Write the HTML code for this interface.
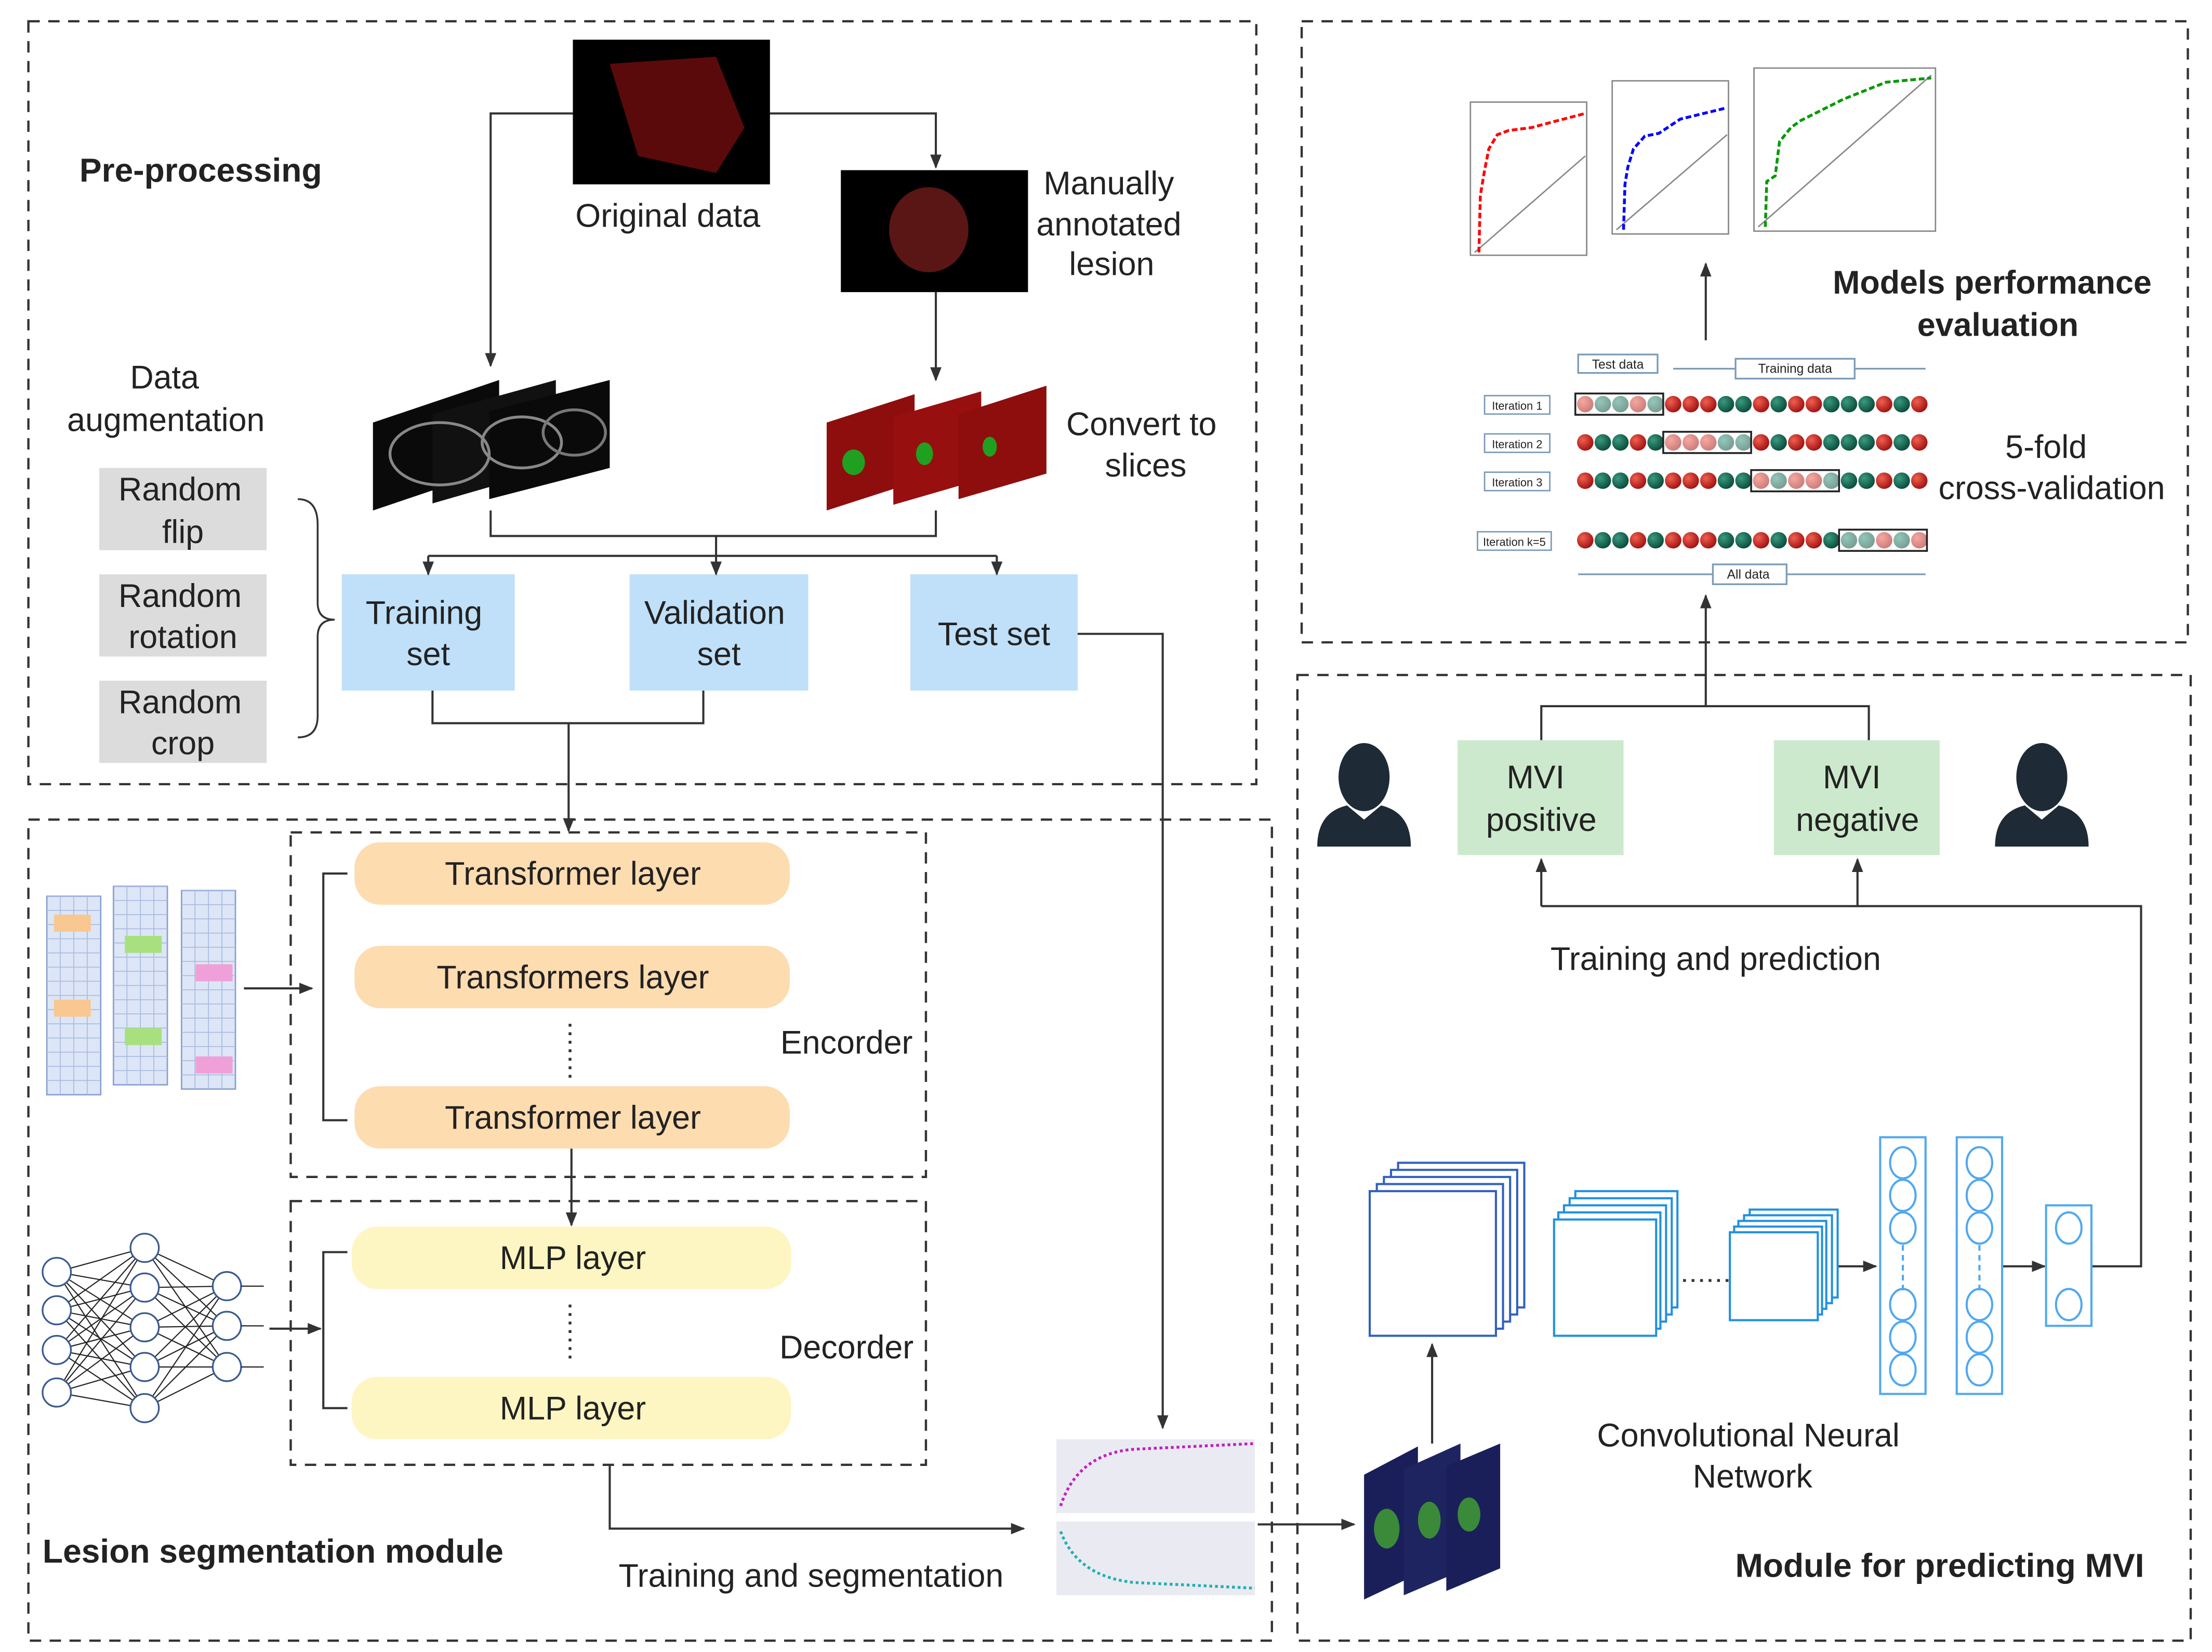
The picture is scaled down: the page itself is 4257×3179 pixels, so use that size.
<!DOCTYPE html>
<html><head><meta charset="utf-8"><style>
html,body{margin:0;padding:0;background:#fff}
svg{display:block}
text{font-family:"Liberation Sans",sans-serif;fill:#222}
</style></head><body>
<svg id="s" width="4257" height="3179" viewBox="0 0 1560 1165" xmlns="http://www.w3.org/2000/svg">
<defs>
<marker id="a" markerWidth="10" markerHeight="10" refX="9" refY="5" orient="auto" markerUnits="userSpaceOnUse"><path d="M0,1 L10,5 L0,9 z" fill="#333"/></marker>
<radialGradient id="rb" cx="0.35" cy="0.35" r="0.7"><stop offset="0" stop-color="#f06050"/><stop offset="1" stop-color="#a01010"/></radialGradient>
<radialGradient id="gb" cx="0.35" cy="0.35" r="0.7"><stop offset="0" stop-color="#3a9a80"/><stop offset="1" stop-color="#0a4a3a"/></radialGradient>
</defs>
<g fill="none" stroke="#333" stroke-width="1.6" stroke-dasharray="8,6">
<rect x="20" y="15" width="866" height="538"/>
<rect x="918" y="15" width="625" height="438"/>
<rect x="20" y="578" width="877" height="579"/>
<rect x="915" y="476" width="630" height="681"/>
<rect x="205" y="587" width="448" height="243"/>
<rect x="205" y="847" width="448" height="186"/>
</g>
<text x="56" y="128" font-size="23.5" font-weight="bold">Pre-processing</text>
<rect x="404" y="28" width="139" height="102" fill="#000"/>
<path d="M430,45 L505,40 L525,90 L505,122 L450,110 Z" fill="#5a0a0a"/>
<rect x="593" y="120" width="132" height="86" fill="#000"/>
<ellipse cx="655" cy="162" rx="28" ry="30" fill="#5a1515"/>
<g font-size="23" text-anchor="middle">
<text x="471" y="160">Original data</text>
<text x="782" y="137">Manually</text><text x="782" y="166">annotated</text><text x="784" y="194">lesion</text>
<text x="116" y="274">Data</text><text x="117" y="304">augmentation</text>
<text x="805" y="307">Convert to</text><text x="808" y="336">slices</text></g>
<path d="M263,298 L352,268 L352,330 L263,360 Z" fill="#0a0a0a"/>
<path d="M305,292 L392,268 L392,330 L305,355 Z" fill="#111"/>
<path d="M345,290 L430,268 L430,330 L345,352 Z" fill="#0a0a0a"/>
<ellipse cx="310" cy="320" rx="35" ry="22" fill="none" stroke="#888" stroke-width="2"/>
<ellipse cx="368" cy="312" rx="28" ry="18" fill="none" stroke="#888" stroke-width="2"/>
<ellipse cx="405" cy="305" rx="22" ry="16" fill="none" stroke="#777" stroke-width="2"/>
<path d="M583,298 L645,278 L645,340 L583,360 Z" fill="#8e0e0e"/>
<path d="M630,294 L692,276 L692,338 L630,356 Z" fill="#980f0f"/>
<path d="M676,292 L738,272 L738,334 L676,352 Z" fill="#8e0e0e"/>
<ellipse cx="602" cy="326" rx="8" ry="9" fill="#20a020"/>
<ellipse cx="652" cy="320" rx="6" ry="8" fill="#20a020"/>
<ellipse cx="698" cy="315" rx="5" ry="7" fill="#20a020"/>
<g fill="#dcdcdc"><rect x="70" y="330" width="118" height="58"/><rect x="70" y="405" width="118" height="58"/><rect x="70" y="480" width="118" height="58"/></g>
<g font-size="23" text-anchor="middle"><text x="127" y="353">Random</text><text x="129" y="383">flip</text><text x="127" y="428">Random</text><text x="129" y="457">rotation</text><text x="127" y="503">Random</text><text x="129" y="532">crop</text></g>
<path d="M210,352 Q224,352 224,370 L224,425 Q224,437 236,437 Q224,437 224,449 L224,505 Q224,520 210,520" fill="none" stroke="#333" stroke-width="1.3"/>
<g fill="#bfe0f8"><rect x="241" y="405" width="122" height="82"/><rect x="444" y="405" width="126" height="82"/><rect x="642" y="405" width="118" height="82"/></g>
<g font-size="23" text-anchor="middle"><text x="299" y="440">Training</text><text x="302" y="469">set</text><text x="504" y="440">Validation</text><text x="507" y="469">set</text><text x="701" y="455">Test set</text></g>
<g fill="none" stroke="#333" stroke-width="1.5">
<path d="M404,80 L346,80 L346,258" marker-end="url(#a)"/>
<path d="M543,80 L660,80 L660,118" marker-end="url(#a)"/>
<path d="M660,206 L660,268" marker-end="url(#a)"/>
<path d="M346,360 L346,378 L660,378 L660,360"/>
<path d="M505,378 L505,405" marker-end="url(#a)"/>
<path d="M302,392 L703,392"/>
<path d="M302,392 L302,405" marker-end="url(#a)"/>
<path d="M703,392 L703,405" marker-end="url(#a)"/>
<path d="M760,447 L820,447 L820,1007" marker-end="url(#a)"/>
<path d="M305,487 L305,510 L496,510 L496,487"/>
<path d="M401,510 L401,586" marker-end="url(#a)"/>
<path d="M245,616 L228,616 L228,790 L245,790"/>
<path d="M172,697 L220,697" marker-end="url(#a)"/>
<path d="M403,810 L403,864" marker-end="url(#a)"/>
<path d="M245,883 L228,883 L228,993 L245,993"/>
<path d="M190,937 L226,937" marker-end="url(#a)"/>
<path d="M430,1033 L430,1078 L722,1078" marker-end="url(#a)"/>
<path d="M887,1075 L955,1075" marker-end="url(#a)"/>
<path d="M1010,1018 L1010,948" marker-end="url(#a)"/>
<path d="M1296,893 L1323,893" marker-end="url(#a)"/>
<path d="M1412,893 L1442,893" marker-end="url(#a)"/>
<path d="M1475,893 L1510,893 L1510,639 L1087,639"/>
<path d="M1087,639 L1087,606" marker-end="url(#a)"/>
<path d="M1310,639 L1310,606" marker-end="url(#a)"/>
<path d="M1087,522 L1087,498 L1318,498 L1318,522"/>
<path d="M1203,498 L1203,420" marker-end="url(#a)"/>
<path d="M1203,240 L1203,186" marker-end="url(#a)"/>
</g>
<g stroke="#333" stroke-width="2" stroke-dasharray="2,4"><line x1="402" y1="722" x2="402" y2="760"/><line x1="402" y1="920" x2="402" y2="958"/><line x1="1187" y1="903" x2="1220" y2="903"/></g>
<g fill="#fddcb0"><rect x="250" y="594" width="307" height="44" rx="18"/><rect x="250" y="667" width="307" height="44" rx="18"/><rect x="250" y="766" width="307" height="44" rx="18"/></g>
<g fill="#fdf6c2"><rect x="248" y="865" width="310" height="44" rx="18"/><rect x="248" y="971" width="310" height="44" rx="18"/></g>
<g font-size="23" text-anchor="middle"><text x="404" y="624">Transformer layer</text><text x="404" y="697">Transformers layer</text><text x="404" y="796">Transformer layer</text><text x="404" y="895">MLP layer</text><text x="404" y="1001">MLP layer</text>
<text x="597" y="743">Encorder</text>
<text x="597" y="958">Decorder</text>
<text x="572" y="1119">Training and segmentation</text></g>
<text x="30" y="1102" font-size="23.5" font-weight="bold">Lesion segmentation module</text>
<rect x="745" y="1015" width="140" height="52" fill="#eaeaf2"/>
<rect x="745" y="1073" width="140" height="52" fill="#eaeaf2"/>
<path d="M748,1062 Q760,1025 800,1022 L885,1018" fill="none" stroke="#c020c0" stroke-width="2" stroke-dasharray="2,2"/>
<path d="M748,1080 Q760,1112 800,1116 L885,1120" fill="none" stroke="#20b0b0" stroke-width="2" stroke-dasharray="2,2"/>
<path d="M962,1040 L1000,1020 L1000,1110 L962,1128 Z" fill="#1a1f5a"/>
<path d="M990,1036 L1030,1018 L1030,1108 L990,1125 Z" fill="#1e2460"/>
<path d="M1020,1034 L1058,1018 L1058,1106 L1020,1122 Z" fill="#1a1f5a"/>
<ellipse cx="978" cy="1078" rx="9" ry="14" fill="#3a8a3a"/><ellipse cx="1008" cy="1072" rx="8" ry="13" fill="#3a8a3a"/><ellipse cx="1036" cy="1068" rx="8" ry="12" fill="#3a8a3a"/>
<g fill="#fff" stroke-width="1.5">
<g stroke="#3060c0"><rect x="986" y="820" width="89" height="102"/><rect x="981" y="825" width="89" height="102"/><rect x="976" y="830" width="89" height="102"/><rect x="971" y="835" width="89" height="102"/><rect x="966" y="840" width="89" height="102"/></g>
<g stroke="#2090e0"><rect x="1111" y="840" width="72" height="82"/><rect x="1107" y="845" width="72" height="82"/><rect x="1103" y="850" width="72" height="82"/><rect x="1099" y="855" width="72" height="82"/><rect x="1096" y="860" width="72" height="82"/></g>
<g stroke="#2090e0"><rect x="1234" y="853" width="62" height="62"/><rect x="1230" y="857" width="62" height="62"/><rect x="1226" y="861" width="62" height="62"/><rect x="1223" y="865" width="62" height="62"/><rect x="1220" y="869" width="62" height="62"/></g>
</g>
<g fill="none" stroke="#50a8f0" stroke-width="1.5">
<rect x="1326" y="802" width="32" height="181"/><rect x="1380" y="802" width="32" height="181"/><rect x="1443" y="850" width="32" height="85"/>
<line x1="1342" y1="878" x2="1342" y2="910" stroke-dasharray="4,3"/><line x1="1396" y1="878" x2="1396" y2="910" stroke-dasharray="4,3"/>
</g>
<g font-size="23" text-anchor="middle">
<text x="1233" y="1020">Convolutional Neural</text>
<text x="1236" y="1049">Network</text>
<text x="1210" y="684">Training and prediction</text>
</g>
<text x="1368" y="1112" font-size="23.5" font-weight="bold" text-anchor="middle">Module for predicting MVI</text>
<g fill="#cde9cd"><rect x="1028" y="522" width="117" height="81"/><rect x="1251" y="522" width="117" height="81"/></g>
<g font-size="23" text-anchor="middle"><text x="1083" y="556">MVI</text><text x="1087" y="586">positive</text><text x="1306" y="556">MVI</text><text x="1310" y="586">negative</text></g>
<g fill="#1e2a36"><ellipse cx="962" cy="548" rx="18" ry="24"/><path d="M929,597 Q929,573 950,568 L962,578 L974,568 Q995,573 995,597 Z"/>
<ellipse cx="1440" cy="548" rx="18" ry="24"/><path d="M1407,597 Q1407,573 1428,568 L1440,578 L1452,568 Q1473,573 1473,597 Z"/></g>
<g font-size="23" font-weight="bold" text-anchor="middle"><text x="1405" y="207">Models performance</text><text x="1409" y="237">evaluation</text></g>
<g font-size="23" text-anchor="middle"><text x="1443" y="323">5-fold</text><text x="1447" y="352">cross-validation</text></g>
<g fill="none" stroke="#888" stroke-width="1">
<rect x="1037" y="72" width="82" height="108"/><rect x="1137" y="57" width="82" height="108"/><rect x="1237" y="48" width="128" height="115"/>
<line x1="1040" y1="178" x2="1118" y2="110"/><line x1="1140" y1="162" x2="1218" y2="95"/><line x1="1240" y1="160" x2="1362" y2="53"/>
</g>
<path d="M1043,178 L1044,138 L1047,120 L1050,105 L1056,95 L1064,92 L1080,90 L1095,86 L1118,80" fill="none" stroke="#f00" stroke-width="2" stroke-dasharray="4,2"/>
<path d="M1145,162 L1146,130 L1148,118 L1152,105 L1160,96 L1170,94 L1185,84 L1218,76" fill="none" stroke="#00f" stroke-width="2" stroke-dasharray="4,2"/>
<path d="M1245,160 L1246,128 L1252,124 L1255,100 L1263,90 L1270,85 L1290,75 L1300,70 L1330,58 L1362,55" fill="none" stroke="#090" stroke-width="2" stroke-dasharray="4,2"/>
<text x="1141" y="260" font-size="9" text-anchor="middle">Test data</text>
<text x="1266" y="263" font-size="9" text-anchor="middle">Training data</text>
<text x="1233" y="408" font-size="9" text-anchor="middle">All data</text>
<g fill="none" stroke="#7a9ab8" stroke-width="1.2"><rect x="1113" y="250" width="56" height="13"/><rect x="1224" y="253" width="84" height="14"/><rect x="1208" y="398" width="52" height="14"/>
<line x1="1180" y1="260" x2="1224" y2="260"/><line x1="1308" y1="260" x2="1358" y2="260"/><line x1="1113" y1="405" x2="1208" y2="405"/><line x1="1260" y1="405" x2="1358" y2="405"/></g>
<g font-size="8" text-anchor="middle"><text x="1070" y="289">Iteration 1</text><text x="1070" y="316">Iteration 2</text><text x="1070" y="343">Iteration 3</text><text x="1068" y="385">Iteration k=5</text></g>
<g fill="none" stroke="#7a9ab8"><rect x="1047" y="279" width="46" height="13"/><rect x="1047" y="306" width="46" height="13"/><rect x="1047" y="333" width="46" height="13"/><rect x="1042" y="375" width="52" height="13"/></g>
</svg>
<script>
var s=document.getElementById('s'),NS='http://www.w3.org/2000/svg';
function el(t,a,p){var e=document.createElementNS(NS,t);for(var k in a)e.setAttribute(k,a[k]);(p||s).appendChild(e);return e;}
var pat='rggrgrrrggrgrrgggrgr';
var rows=[285,312,339,381];
for(var r=0;r<4;r++){for(var i=0;i<20;i++){var hl=(i>=r*5&&i<r*5+5);var c=pat[i%20];
el('circle',{cx:1118+i*12.4,cy:rows[r],r:5.8,fill:c=='r'?'url(#rb)':'url(#gb)',opacity:hl?0.55:1});}
el('rect',{x:1111+r*5*12.4,y:rows[r]-7.5,width:62,height:15,fill:'none',stroke:'#222','stroke-width':1.3});}
[1342,1396].forEach(function(x){[820,843,866,920,943,966].forEach(function(y){el('ellipse',{cx:x,cy:y,rx:9,ry:11,fill:'none',stroke:'#50a8f0','stroke-width':1.5});});});
[866,920].forEach(function(y){el('ellipse',{cx:1459,cy:y,rx:9,ry:11,fill:'none',stroke:'#50a8f0','stroke-width':1.5});});
[[33,632],[80,625],[128,628]].forEach(function(p){var x=p[0],y=p[1];
el('rect',{x:x,y:y,width:38,height:140,fill:'#dce6f6',stroke:'#8aa0d0'});
for(var j=0;j<14;j++)el('line',{x1:x,y1:y+j*10,x2:x+38,y2:y+j*10,stroke:'#a8b8e0','stroke-width':0.6});
for(var j=1;j<4;j++)el('line',{x1:x+j*9.5,y1:y,x2:x+j*9.5,y2:y+140,stroke:'#a8b8e0','stroke-width':0.6});});
el('rect',{x:38,y:645,width:26,height:12,fill:'#f8c890'});el('rect',{x:38,y:705,width:26,height:12,fill:'#f8c890'});
el('rect',{x:88,y:660,width:26,height:12,fill:'#a8e080'});el('rect',{x:88,y:725,width:26,height:12,fill:'#a8e080'});
el('rect',{x:138,y:680,width:26,height:12,fill:'#f0a0d8'});el('rect',{x:138,y:745,width:26,height:12,fill:'#f0a0d8'});
var L0=[[40,897],[40,924],[40,952],[40,982]],L1=[[102,880],[102,908],[102,936],[102,964],[102,993]],L2=[[160,907],[160,935],[160,964]];
function conn(A,B){A.forEach(function(a){B.forEach(function(b){el('line',{x1:a[0],y1:a[1],x2:b[0],y2:b[1],stroke:'#222','stroke-width':0.8});});});}
conn(L0,L1);conn(L1,L2);
L0.concat(L1,L2).forEach(function(p){el('circle',{cx:p[0],cy:p[1],r:10,fill:'#fff',stroke:'#3a5a90','stroke-width':1.2});});
L2.forEach(function(p){el('line',{x1:170,y1:p[1],x2:186,y2:p[1],stroke:'#222','stroke-width':0.8});});
</script>
</body></html>
